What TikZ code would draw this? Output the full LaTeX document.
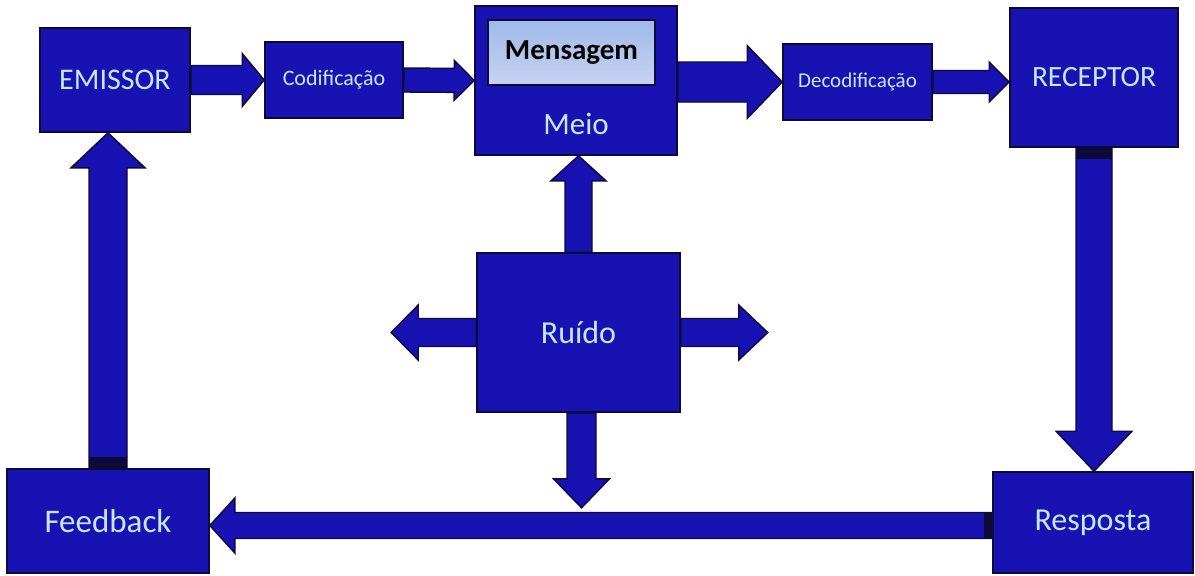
\documentclass[tikz,border=0pt]{standalone}
\usepackage{fontspec}
\setmainfont{Carlito}
\usetikzlibrary{calc}
\definecolor{boxblue}{RGB}{24,18,178}
\definecolor{edge}{RGB}{12,10,55}
\definecolor{txtcol}{RGB}{196,232,252}
\definecolor{msgtop}{RGB}{158,186,234}
\definecolor{msgbot}{RGB}{200,210,240}
\tikzset{
  box/.style={rectangle, fill=boxblue, draw=edge, line width=0.8pt, inner sep=0pt, text=txtcol},
  msgbox/.style={rectangle, draw=edge, line width=0.8pt, inner sep=0pt, top color=msgtop, bottom color=msgbot, text=black},
  arrowstyle/.style={fill=boxblue, draw=edge, line width=0.7pt, line join=miter},
  band/.style={fill=edge},
  lbl/.style={text=txtcol, inner sep=0pt},
}
% #1 base, #2 tip, #3 shaft half width, #4 head half width, #5 head length
\newcommand\blockarrow[5]{%
  \coordinate (ba) at #1;
  \coordinate (tp) at #2;
  \coordinate (hb) at ($(tp)!#5!(ba)$);
  \draw[arrowstyle] ($(ba)!#3!90:(tp)$) -- ($(hb)!#3!-90:(ba)$) -- ($(hb)!#4!-90:(ba)$)
     -- (tp) -- ($(hb)!#4!90:(ba)$) -- ($(hb)!#3!90:(ba)$) -- ($(ba)!#3!-90:(tp)$) -- cycle;
}
\begin{document}
\begin{tikzpicture}[x=0.5pt,y=-0.5pt]
\useasboundingbox[fill=white] (0,0) rectangle (1195,575);

% boxes
\node[box, minimum width=75pt, minimum height=52pt, font=\fontsize{15}{18}\selectfont] (emissor) at (115,80) {EMISSOR};
\node[box, minimum width=69pt, minimum height=38pt, font=\fontsize{11}{13}\selectfont] (codif) at (334,80) {Codificação};
\node[box, minimum width=101pt, minimum height=74.5pt] (meio) at (576,80.5) {};
\node[msgbox, minimum width=83.5pt, minimum height=32.5pt, font=\bfseries\fontsize{14.5}{17}\selectfont] (msg) at (571.5,52.5) {Mensagem};
\node[lbl, font=\fontsize{15.5}{18}\selectfont] (meiolbl) at (576,124) {Meio};
\node[box, minimum width=74.5pt, minimum height=38pt, font=\fontsize{10.5}{12}\selectfont] (decod) at (857.5,82) {Decodificação};
\node[box, minimum width=84pt, minimum height=69.5pt, font=\fontsize{14.7}{17}\selectfont] (receptor) at (1094,77.5) {RECEPTOR};
\node[box, minimum width=101.5pt, minimum height=79.5pt, font=\fontsize{16}{19}\selectfont] (ruido) at (578.5,332.5) {Ruído};
\node[box, minimum width=101pt, minimum height=52pt, font=\fontsize{16.5}{19}\selectfont] (feedback) at (108,521) {Feedback};
\node[box, minimum width=100pt, minimum height=50.5pt, font=\fontsize{16}{19}\selectfont] (resposta) at (1093,522.5) {Resposta};

% free ends of the noise arrows
\coordinate (ndown) at ($(ruido.south)+(3,95)$);
\coordinate (nleft) at ($(ruido.west)+(-85,0)$);
\coordinate (nright) at ($(ruido.east)+(87,0)$);
\coordinate (resp) at ($(resposta.west)+(0,3)$);

% top row
\blockarrow{(emissor.east)}{(codif.west)}{7.25pt}{13.25pt}{11pt}
\blockarrow{(codif.east)}{(meio.west)}{6pt}{10pt}{10pt}
\blockarrow{(meio.east |- decod.west)}{(decod.west)}{10pt}{18.25pt}{17.5pt}
\blockarrow{(decod.east)}{(receptor.west |- decod.east)}{5.75pt}{10pt}{10pt}
% right side down
\blockarrow{(receptor.south)}{(receptor.south |- resposta.north)}{9pt}{19pt}{20pt}
% bottom
\blockarrow{(resp)}{(feedback.east |- resp)}{6.5pt}{13.75pt}{12.5pt}
% left side up
\blockarrow{(feedback.north)}{(feedback.north |- emissor.south)}{9.5pt}{18.5pt}{17.5pt}
% noise
\blockarrow{(ruido.north)}{(ruido.north |- meio.south)}{6.75pt}{13.75pt}{12.5pt}
\blockarrow{($(ruido.south)+(3,0)$)}{(ndown)}{7.25pt}{14pt}{14.5pt}
\blockarrow{(ruido.west)}{(nleft)}{7pt}{13.75pt}{13.5pt}
\blockarrow{(ruido.east)}{(nright)}{7pt}{13.75pt}{14.5pt}

% dark bands where long arrows meet boxes
\fill[band] ($(receptor.south)+(-18,0)$) rectangle ($(receptor.south)+(18,11)$);
\fill[band] ($(feedback.north)+(-19,0)$) rectangle ($(feedback.north)+(19,-11)$);
\fill[band] ($(resp)+(0,-13)$) rectangle ($(resp)+(-8,13)$);
\end{tikzpicture}
\end{document}
